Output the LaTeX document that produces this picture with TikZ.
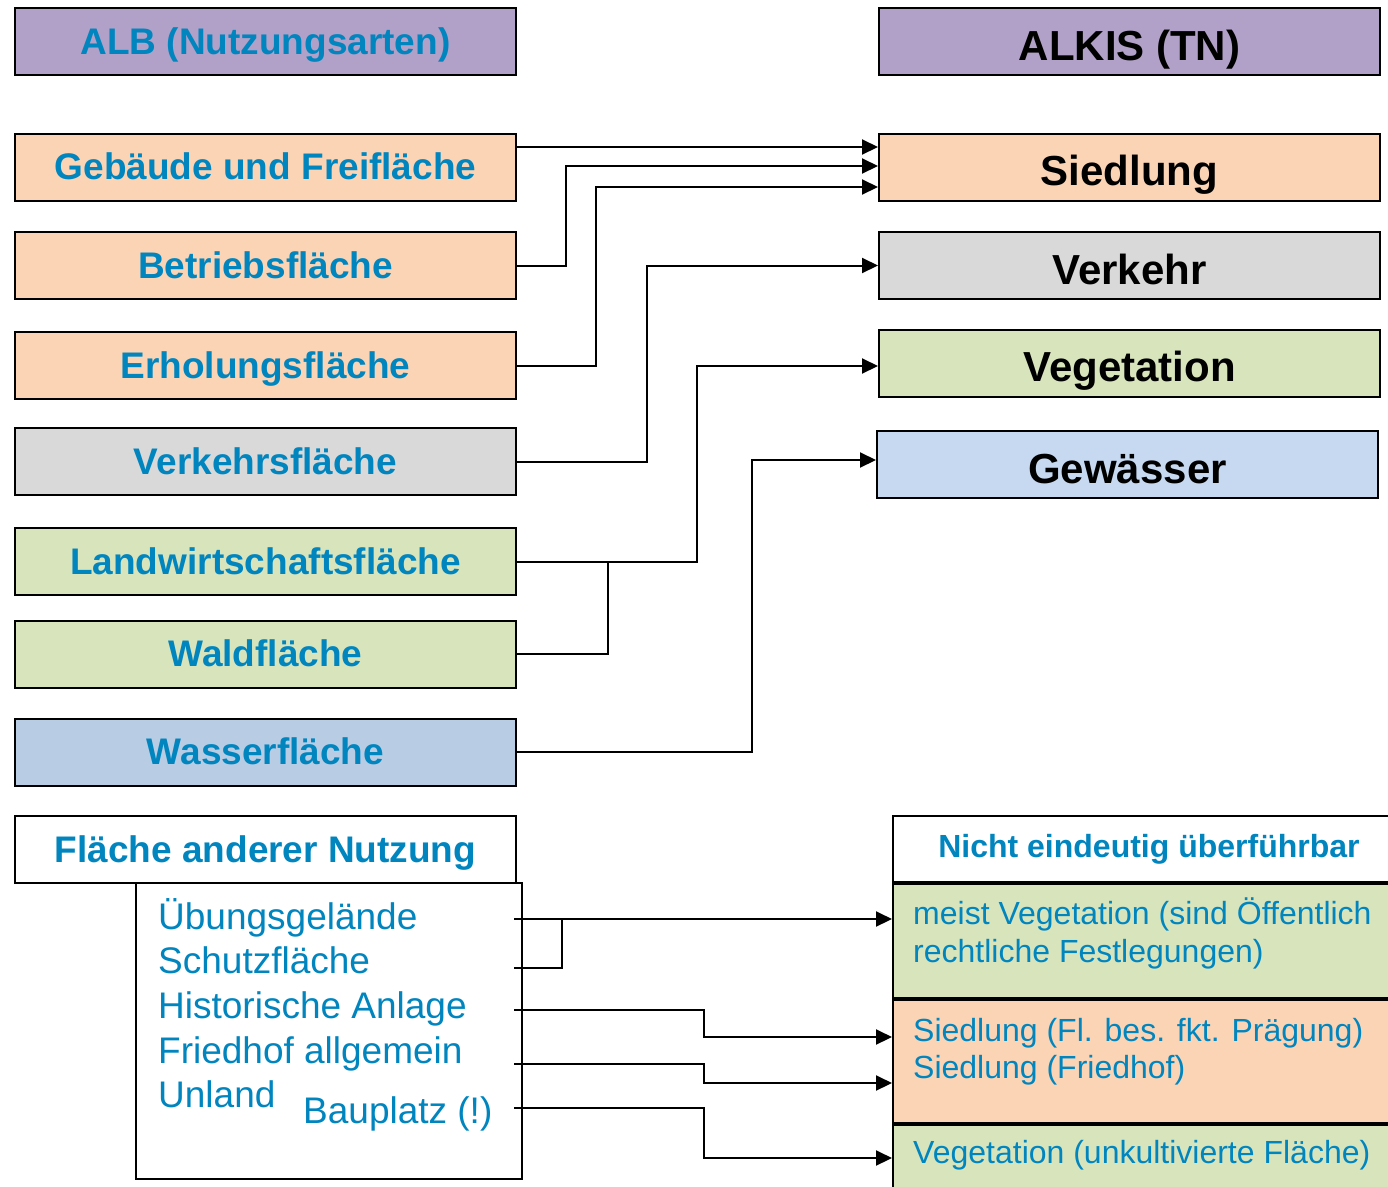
\documentclass[tikz,border=0pt]{standalone}
\usepackage{fontspec}
\setmainfont{Liberation Sans}
\usetikzlibrary{arrows.meta}
\definecolor{cpurple}{HTML}{B1A0C7}
\definecolor{cpeach}{HTML}{FAD4B4}
\definecolor{cgray}{HTML}{D9D9D9}
\definecolor{cgreen}{HTML}{D8E4BC}
\definecolor{cblueL}{HTML}{B8CCE4}
\definecolor{cblueR}{HTML}{C6D9F1}
\definecolor{ctext}{HTML}{0085BF}
\tikzset{
  box/.style={draw=black, line width=2pt, inner sep=0pt, minimum width=501pt, minimum height=67pt},
  leftbox/.style={box, font=\fontsize{37}{44}\bfseries\selectfont, text=ctext, text height=25pt, text depth=0pt},
  rightbox/.style={box, font=\fontsize{42}{50}\bfseries\selectfont, text=black, text height=37pt, text depth=0pt},
  listtext/.style={anchor=base west, inner sep=0pt, text=ctext, font=\fontsize{37}{44}\selectfont},
  restext/.style={anchor=base west, inner sep=0pt, text=ctext, font=\fontsize{32}{38}\selectfont},
  plainbox/.style={draw=black, line width=2pt, inner sep=0pt},
  conn/.style={draw=black, line width=2pt, -{Triangle[length=16pt,width=15pt]}},
  link/.style={draw=black, line width=2pt},
}
\begin{document}
\begin{tikzpicture}[x=1pt,y=-1pt]
\useasboundingbox (0,0) rectangle (1388,1186);
\clip (0,0) rectangle (1388,1186);
% headers
\node[leftbox, fill=cpurple] (alb) at (265.5,41.5) {ALB (Nutzungsarten)};
\node[rightbox, fill=cpurple, text height=37pt] (alkis) at (1129.5,41.5) {ALKIS (TN)};
% left boxes
\node[leftbox, fill=cpeach] (geb) at (265.5,167) {Gebäude und Freifläche};
\node[leftbox, fill=cpeach] (betr) at (265.5,265.5) {Betriebsfläche};
\node[leftbox, fill=cpeach] (erh) at (265.5,365.5) {Erholungsfläche};
\node[leftbox, fill=cgray] (verkf) at (265.5,461.5) {Verkehrsfläche};
\node[leftbox, fill=cgreen] (lw) at (265.5,561.5) {Landwirtschaftsfläche};
\node[leftbox, fill=cgreen] (wald) at (265.5,654) {Waldfläche};
\node[leftbox, fill=cblueL] (wasser) at (265.5,752) {Wasserfläche};
\node[leftbox, fill=white] (fan) at (265.5,849.5) {Fläche anderer Nutzung};
% right boxes
\node[rightbox, fill=cpeach] (sied) at (1129.5,167) {Siedlung};
\node[rightbox, fill=cgray] (verk) at (1129.5,265.5) {Verkehr};
\node[rightbox, fill=cgreen] (veg) at (1129.5,363) {Vegetation};
\node[rightbox, fill=cblueR] (gew) at (1127.5,464.5) {Gewässer};
% list box
\node[plainbox, fill=white, minimum width=386pt, minimum height=296pt] (liste) at (329,1031) {};
\node[listtext] (ueb) at (158,929) {Übungsgelände};
\node[listtext] (schutz) at (158,973) {Schutzfläche};
\node[listtext] (hist) at (158,1018) {Historische Anlage};
\node[listtext] (fried) at (158,1063) {Friedhof allgemein};
\node[listtext] (unland) at (158,1107) {Unland};
\node[listtext] (bau) at (303,1123) {Bauplatz (!)};
% bottom right boxes
\node[plainbox, fill=white, minimum width=512pt, minimum height=66pt, font=\fontsize{32}{38}\bfseries\selectfont, text=ctext, text height=16pt, text depth=0pt] (nicht) at (1149,849) {Nicht eindeutig überführbar};
\node[plainbox, fill=cgreen, minimum width=512pt, minimum height=114pt] (rveg) at (1149,940.5) {};
\node[plainbox, fill=cpeach, minimum width=512pt, minimum height=123pt] (rsied) at (1149,1061.5) {};
\node[plainbox, fill=cgreen, minimum width=512pt, minimum height=75pt] (rveg2) at (1149,1162.5) {};
\node[restext] (t1) at (913,924) {meist Vegetation (sind Öffentlich};
\node[restext] (t2) at (913,962) {rechtliche Festlegungen)};
\node[restext] (t3) at (913,1041) {Siedlung (Fl. bes. fkt. Prägung)};
\node[restext] (t4) at (913,1078) {Siedlung (Friedhof)};
\node[restext] (t5) at (913,1163) {Vegetation (unkultivierte Fläche)};
% upper connectors
\draw[conn] ([yshift=20pt]geb.east) -- ([yshift=20pt]sied.west);
\draw[conn] (betr.east) -- ++(49,0) |- ([yshift=1pt]sied.west);
\draw[conn] (erh.east) -- ++(79,0) |- ([yshift=-20pt]sied.west);
\draw[conn] (verkf.east) -- ++(130,0) |- (verk.west);
\draw[conn] ([xshift=-2pt]lw.east) -- ++(182,0) |- ([yshift=-3pt]veg.west);
\draw[link] (wald.east) -| ([xshift=91pt]lw.east);
\draw[conn] (wasser.east) -- ++(235,0) |- ([yshift=4.5pt]gew.west);
% lower connectors
\coordinate (sUeb) at (514,919);
\coordinate (sSchutz) at (514,968);
\coordinate (sHist) at (514,1010);
\coordinate (sFried) at (514,1064);
\coordinate (sBau) at (514,1108);
\draw[conn] (sUeb) -- ([yshift=21.5pt]rveg.west);
\draw[link] (sSchutz) -| (562,919);
\draw[conn] (sHist) -- (704,1010) |- ([yshift=24.5pt]rsied.west);
\draw[conn] (sFried) -- (704,1064) |- ([yshift=-21.5pt]rsied.west);
\draw[conn] (sBau) -- (704,1108) |- ([yshift=4.5pt]rveg2.west);
\end{tikzpicture}
\end{document}
